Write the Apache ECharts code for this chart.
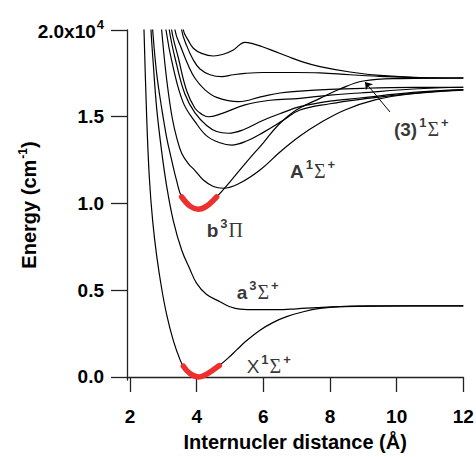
<!DOCTYPE html>
<html>
<head>
<meta charset="utf-8">
<script src="https://cdn.jsdelivr.net/npm/echarts@6.0.0/dist/echarts.min.js"></script>
<style>
  html, body { margin: 0; padding: 0; background: #fff; }
  #chart { width: 476px; height: 457px; }
</style>
</head>
<body>
<div id="chart"></div>
<script>
// potential curves, [R (Å), energy (cm-1)]
const xState = [[2.39, 22000], [2.42, 20000], [2.50, 15000], [2.58, 11500], [2.68, 9000], [2.80, 7000], [2.95, 5100], [3.10, 3600], [3.30, 2100], [3.50, 1000], [3.60, 620], [3.80, 200], [4.05, 0], [4.25, 110], [4.45, 350], [4.68, 660], [4.95, 1100], [5.20, 1560], [5.50, 2100], [5.90, 2700], [6.30, 3150], [6.70, 3480], [7.20, 3760], [7.70, 3950], [8.30, 4060], [9.20, 4095], [12, 4100]]
const aState = [[2.60, 21500], [2.63, 20000], [2.70, 18000], [2.80, 15500], [2.95, 13000], [3.10, 11000], [3.30, 9000], [3.55, 7320], [3.80, 6200], [4.00, 5400], [4.30, 4750], [4.70, 4340], [5.00, 4050], [5.30, 3910], [5.80, 3880], [6.40, 3880], [7.00, 3930], [7.60, 4000], [8.30, 4060], [9.50, 4090], [12, 4100]]
const bState = [[2.65, 21000], [2.68, 20000], [2.80, 17500], [2.95, 15500], [3.10, 13800], [3.25, 12500], [3.40, 11300], [3.55, 10380], [3.80, 9850], [4.05, 9670], [4.30, 9850], [4.60, 10380], [5.00, 11250], [5.50, 12400], [6.00, 13500], [6.45, 14525], [7.00, 15400], [7.70, 16060], [8.30, 16600], [9.00, 17060], [10.1, 17200], [12, 17234]]
const bigAState = [[2.91, 21000], [2.95, 20000], [3.05, 18000], [3.15, 16400], [3.27, 14900], [3.40, 13800], [3.55, 12900], [3.75, 12300], [3.95, 11900], [4.20, 11350], [4.50, 10980], [4.80, 10880], [5.30, 11180], [5.90, 11930], [6.50, 12970], [7.10, 13890], [7.70, 14640], [8.45, 15390], [9.35, 15970], [10.4, 16310], [12, 16540]]
const upper1 = [[3.05, 21000], [3.08, 20000], [3.30, 17800], [3.60, 15800], [3.95, 14720], [4.30, 13900], [4.70, 13500], [5.05, 13370], [5.50, 13600], [6.00, 14100], [6.60, 14800], [7.10, 15390], [8.00, 15750], [8.90, 16000], [10.5, 16350], [12, 16560]]
const upper2 = [[3.15, 21000], [3.18, 20000], [3.40, 18000], [3.65, 16300], [3.95, 15220], [4.30, 14500], [4.60, 14150], [4.95, 14050], [5.40, 14250], [6.00, 14800], [6.60, 15250], [7.10, 15580], [8.00, 15900], [8.90, 16080], [10.5, 16400], [12, 16560]]
const upper3 = [[3.22, 21000], [3.25, 20000], [3.45, 18400], [3.70, 16500], [3.95, 15490], [4.15, 15150], [4.35, 15000], [4.70, 15150], [5.45, 15680], [6.20, 15950], [7.10, 16060], [8.00, 16250], [8.90, 16370], [10.5, 16600], [12, 16700]]
const upper4 = [[3.32, 21000], [3.35, 20000], [3.55, 18900], [3.75, 17950], [3.95, 17220], [4.25, 16550], [4.60, 16120], [5.25, 15870], [5.95, 16160], [6.50, 16370], [7.10, 16480], [8.00, 16580], [9.00, 16640], [10.5, 16690], [12, 16700]]
const upper5 = [[3.52, 21000], [3.55, 20000], [3.70, 19100], [3.90, 18270], [4.10, 17750], [4.40, 17420], [4.75, 17310], [5.10, 17420], [5.45, 17500], [6.00, 17550], [7.00, 17550], [7.70, 17530], [8.60, 17420], [9.50, 17330], [10.5, 17260], [12, 17234]]
const upper6 = [[3.57, 21000], [3.60, 20000], [3.75, 19400], [3.90, 18950], [4.15, 18650], [4.50, 18500], [4.80, 18600], [5.10, 18850], [5.45, 19290], [5.70, 19200], [5.95, 19050], [6.30, 18800], [6.70, 18500], [7.20, 18150], [7.70, 17890], [8.60, 17580], [9.50, 17380], [10.7, 17260], [12, 17234]]

// red parts near the minima
const redRangeX = [3.60, 4.68]
const redRangeB = [3.55, 4.60]

const xTicks = [2, 4, 6, 8, 10, 12]
const yTicks = [0, 5000, 10000, 15000, 20000]

// state labels: [R, energy, name]
const stateLabels = [
  [5.50, 690, '{n|X}{s|1}{g|Σ}{s|+}'],
  [5.20, 4900, '{b|a}{s|3}{g|Σ}{s|+}'],
  [4.30, 8530, '{b|b}{s|3}{g|Π}'],
  [6.80, 11930, '{b|A}{s|1}{g|Σ}{s|+}'],
  [9.92, 14350, '{b|(3)}{s|1}{g|Σ}{s|+}']
]
const arrowFrom = [9.80, 15275]
const arrowTo = [9.05, 17004]

const chart = echarts.init(document.getElementById('chart'), null, { renderer: 'svg' })

const blackCurves = [xState, aState, bState, bigAState, upper1, upper2, upper3, upper4, upper5, upper6]
const inRange = (pts, r) => pts.filter(p => p[0] >= r[0] - 1e-9 && p[0] <= r[1] + 1e-9)

const series = blackCurves.map(d => ({
  type: 'line',
  data: d,
  smooth: 0.4,
  showSymbol: false,
  lineStyle: { color: '#000', width: 1.2 },
  z: 2
}))

;[inRange(xState, redRangeX), inRange(bState, redRangeB)].forEach(d => {
  series.push({
    type: 'line',
    data: d,
    smooth: 0.4,
    showSymbol: false,
    lineStyle: { color: '#ee2f2f', width: 5.5, cap: 'round' },
    z: 3
  })
})

const fam = 'Liberation Sans, Arial, sans-serif'
const labelRich = {
  n: { fontSize: 19, fontFamily: fam, color: '#000', verticalAlign: 'bottom', lineHeight: 21 },
  b: { fontSize: 19, fontFamily: fam, fontWeight: 'bold', color: '#000', verticalAlign: 'bottom', lineHeight: 21 },
  s: { fontSize: 13, fontFamily: fam, fontWeight: 'bold', color: '#000', verticalAlign: 'bottom', lineHeight: 13, padding: [0, 1, 10, 2] },
  g: { fontSize: 20, fontFamily: 'Liberation Serif, serif', color: '#000', verticalAlign: 'bottom', lineHeight: 21 }
}

series.push({
  type: 'scatter',
  data: stateLabels,
  symbolSize: 0,
  silent: true,
  label: {
    show: true,
    position: 'right',
    distance: 0,
    formatter: p => p.data[2],
    rich: labelRich
  },
  markLine: {
    silent: true,
    symbol: ['none', 'arrow'],
    symbolSize: 7,
    label: { show: false },
    lineStyle: { color: '#000', width: 1, type: 'solid' },
    data: [[{ coord: arrowFrom }, { coord: arrowTo }]]
  },
  z: 4
})

chart.setOption({
  animation: false,
  backgroundColor: '#fff',
  grid: { left: 127, right: 12.7, top: 30, bottom: 77, containLabel: false, outerBoundsMode: 'none' },
  xAxis: {
    type: 'value',
    min: 1.91,
    max: 12,
    name: 'Internucler distance (Å)',
    nameLocation: 'middle',
    nameGap: 52,
    nameMoveOverlap: false,
    nameTextStyle: { fontSize: 20, fontWeight: 'bold', fontFamily: fam, color: '#000' },
    axisLine: { lineStyle: { color: '#222', width: 1.3 } },
    axisTick: { show: true, length: 15, customValues: xTicks, lineStyle: { color: '#222', width: 1.3 } },
    axisLabel: {
      customValues: xTicks,
      margin: 27,
      fontSize: 19,
      fontWeight: 'bold',
      fontFamily: fam,
      color: '#000'
    },
    splitLine: { show: false }
  },
  yAxis: {
    type: 'value',
    min: -173,
    max: 20000,
    name: '{n|Energy (cm}{s|-1}{n|)}',
    nameLocation: 'middle',
    nameGap: 88,
    nameMoveOverlap: false,
    nameTextStyle: {
      rich: {
        n: { fontSize: 20, fontWeight: 'bold', fontFamily: fam, color: '#000', verticalAlign: 'bottom', lineHeight: 22 },
        s: { fontSize: 12, fontWeight: 'bold', fontFamily: fam, color: '#000', verticalAlign: 'bottom', lineHeight: 12, padding: [0, 0, 10, 1] }
      }
    },
    axisLine: { show: true, lineStyle: { color: '#222', width: 1.3 } },
    axisTick: { show: true, length: 16, customValues: yTicks, lineStyle: { color: '#222', width: 1.3 } },
    axisLabel: {
      customValues: yTicks,
      margin: 23,
      fontSize: 19,
      fontWeight: 'bold',
      fontFamily: fam,
      color: '#000',
      formatter: v => v === 20000 ? '{m|2.0x10}{s|4}' : (v / 10000).toFixed(1),
      rich: {
        m: { fontSize: 19, fontWeight: 'bold', fontFamily: fam, color: '#000', verticalAlign: 'bottom', lineHeight: 21 },
        s: { fontSize: 13, fontWeight: 'bold', fontFamily: fam, color: '#000', verticalAlign: 'bottom', lineHeight: 13, padding: [0, 0, 10, 1] }
      }
    },
    splitLine: { show: false }
  },
  series: series
})
</script>
</body>
</html>
